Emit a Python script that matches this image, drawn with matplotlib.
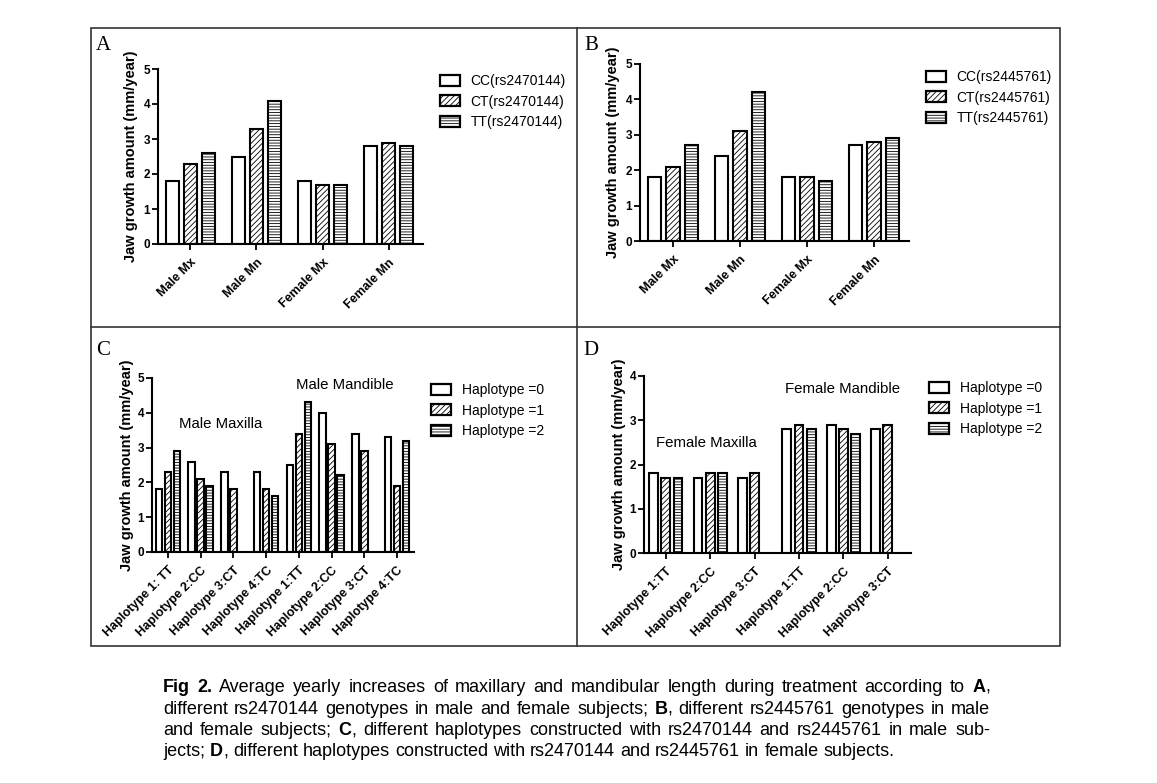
import matplotlib.pyplot as plt
import numpy as np
from matplotlib.patches import Patch, Rectangle
from matplotlib.lines import Line2D

plt.rcParams['font.family'] = ['Liberation Sans', 'DejaVu Sans']
plt.rcParams['hatch.linewidth'] = 0.6

# ---- data ----
groups_ab = ['Male Mx', 'Male Mn', 'Female Mx', 'Female Mn']
a_names = ['CC(rs2470144)', 'CT(rs2470144)', 'TT(rs2470144)']
a_cc = [1.8, 2.5, 1.8, 2.8]
a_ct = [2.3, 3.3, 1.7, 2.9]
a_tt = [2.6, 4.1, 1.7, 2.8]

b_names = ['CC(rs2445761)', 'CT(rs2445761)', 'TT(rs2445761)']
b_cc = [1.8, 2.4, 1.8, 2.7]
b_ct = [2.1, 3.1, 1.8, 2.8]
b_tt = [2.7, 4.2, 1.7, 2.9]

hap_names = ['Haplotype =0', 'Haplotype =1', 'Haplotype =2']
c_labels = ['Haplotype 1: TT', 'Haplotype 2:CC', 'Haplotype 3:CT', 'Haplotype 4:TC',
            'Haplotype 1:TT', 'Haplotype 2:CC', 'Haplotype 3:CT', 'Haplotype 4:TC']
c_h0 = [1.8, 2.6, 2.3, 2.3, 2.5, 4.0, 3.4, 3.3]
c_h1 = [2.3, 2.1, 1.8, 1.8, 3.4, 3.1, 2.9, 1.9]
c_h2 = [2.9, 1.9, np.nan, 1.6, 4.3, 2.2, np.nan, 3.2]

d_labels = ['Haplotype 1:TT', 'Haplotype 2:CC', 'Haplotype 3:CT',
            'Haplotype 1:TT', 'Haplotype 2:CC', 'Haplotype 3:CT']
d_h0 = [1.8, 1.7, 1.7, 2.8, 2.9, 2.8]
d_h1 = [1.7, 1.8, 1.8, 2.9, 2.8, 2.9]
d_h2 = [1.7, 1.8, np.nan, 2.8, 2.7, np.nan]

caption = [
    "*Fig 2.*  Average yearly increases of maxillary and mandibular length during treatment according to *A*,",
    "different rs2470144 genotypes in male and female subjects; *B*, different rs2445761 genotypes in male",
    "and female subjects; *C*, different haplotypes constructed with rs2470144 and rs2445761 in male sub-",
    "jects; *D*, different haplotypes constructed with rs2470144 and rs2445761 in female subjects.",
]

hatches = ['', '//////', '------']

W, H = 1157, 783
fig = plt.figure(figsize=(W / 100, H / 100), dpi=100)


def px(x0, y0, x1, y1):
    # pixel box -> figure fraction [left, bottom, width, height]
    return [x0 / W, 1 - y1 / H, (x1 - x0) / W, (y1 - y0) / H]


def panel(rect, labels, series, names, ymax, leg_xy, ylab_px):
    ax = fig.add_axes(px(*rect))
    n = len(labels)
    x = np.arange(n)
    for i, vals in enumerate(series):
        ax.bar(x + (i - 1) * 0.275, vals, 0.2, facecolor='white', edgecolor='black',
               hatch=hatches[i], linewidth=1.5, zorder=2)
    ax.set_xlim(-0.49, n - 0.48)
    ax.set_ylim(0, ymax)
    ax.set_yticks(range(ymax + 1))
    ax.set_xticks(x)
    ax.set_xticklabels(labels, rotation=45, ha='right', rotation_mode='anchor',
                       fontsize=9, fontweight='bold')
    for t in ax.get_yticklabels():
        t.set_fontweight('bold')
        t.set_fontsize(8.5)
    for s in ['top', 'right']:
        ax.spines[s].set_visible(False)
    for s in ['left', 'bottom']:
        ax.spines[s].set_linewidth(1.5)
    ax.tick_params(length=4, width=1.3, pad=1.5)
    ax.tick_params(axis='x', pad=5)
    ax.set_ylabel('Jaw growth amount (mm/year)', fontsize=10.5, fontweight='bold')
    ax.yaxis.set_label_coords(-ylab_px / (rect[2] - rect[0]), 0.5)
    handles = [Patch(facecolor='white', edgecolor='black', hatch=h, linewidth=1.6)
               for h in hatches]
    fig.legend(handles, names, loc='upper left',
               bbox_to_anchor=(leg_xy[0] / W, 1 - leg_xy[1] / H),
               frameon=False, fontsize=10, borderpad=0, borderaxespad=0,
               handlelength=1.45, handleheight=0.85, handletextpad=0.75,
               labelspacing=0.48)
    return ax


panel((158, 69, 423, 244), groups_ab, [a_cc, a_ct, a_tt], a_names, 5, (440, 74), 20)
panel((640, 64, 909, 241), groups_ab, [b_cc, b_ct, b_tt], b_names, 5, (926, 70), 20)
panel((152, 378, 414, 552), c_labels, [c_h0, c_h1, c_h2], hap_names, 5, (431, 383), 18)
panel((644, 376, 911, 553), d_labels, [d_h0, d_h1, d_h2], hap_names, 4, (929, 381), 18)

# panel letters
for lab, (x, y) in zip('ABCD', [(96, 50), (584, 50), (96, 355), (583, 355)]):
    fig.text(x / W, 1 - y / H, lab, fontsize=15, family='Liberation Serif', va='baseline')

# group notes
for txt, (x, y) in [('Male Maxilla', (221, 424)), ('Male Mandible', (345, 385)),
                    ('Female Maxilla', (706, 443)), ('Female Mandible', (843, 389))]:
    fig.text(x / W, 1 - y / H, txt, fontsize=10.8, ha='center', va='center')

# frame around the four panels
fig.add_artist(Rectangle((91 / W, 1 - 646 / H), (1060 - 91) / W, (646 - 28) / H,
                         transform=fig.transFigure, fill=False, lw=1.2, color='#333333'))
fig.add_artist(Line2D([577 / W, 577 / W], [1 - 28 / H, 1 - 646 / H],
                      transform=fig.transFigure, lw=1.2, color='#333333'))
fig.add_artist(Line2D([91 / W, 1060 / W], [1 - 327 / H, 1 - 327 / H],
                      transform=fig.transFigure, lw=1.2, color='#333333'))

# caption, justified like the journal text
cap_font = ['Liberation Sans', 'DejaVu Sans']
cap_size = 13
x_left, x_right = 163, 990
base_y = [692, 713.5, 735, 756.5]
fig.canvas.draw()
rend = fig.canvas.get_renderer()


def make(s, bold):
    return fig.text(0, 0, s, fontsize=cap_size, family=cap_font,
                    fontweight='bold' if bold else 'normal', va='baseline')


def width(t):
    return t.get_window_extent(rend).width


sp = width(make('a a', False)) - width(make('aa', False))
for t in fig.texts[-2:]:
    t.remove()

for k, line in enumerate(caption):
    words, cur, buf, bold = [], [], '', False
    for ch in line:
        if ch == '*':
            if buf:
                cur.append((buf, bold))
                buf = ''
            bold = not bold
        elif ch == ' ':
            if buf:
                cur.append((buf, bold))
                buf = ''
            if cur:
                words.append(cur)
                cur = []
        else:
            buf += ch
    if buf:
        cur.append((buf, bold))
    if cur:
        words.append(cur)
    arts = [[make(s, b) for s, b in w] for w in words]
    wws = [sum(width(t) for t in w) for w in arts]
    if k < len(caption) - 1:
        gap = (x_right - x_left - sum(wws)) / (len(words) - 1)
    else:
        gap = sp
    x = x_left
    for w, ww in zip(arts, wws):
        xx = x
        for t in w:
            t.set_position((xx / W, 1 - base_y[k] / H))
            xx += width(t)
        x += ww + gap

fig.savefig('out.png', dpi=100)
